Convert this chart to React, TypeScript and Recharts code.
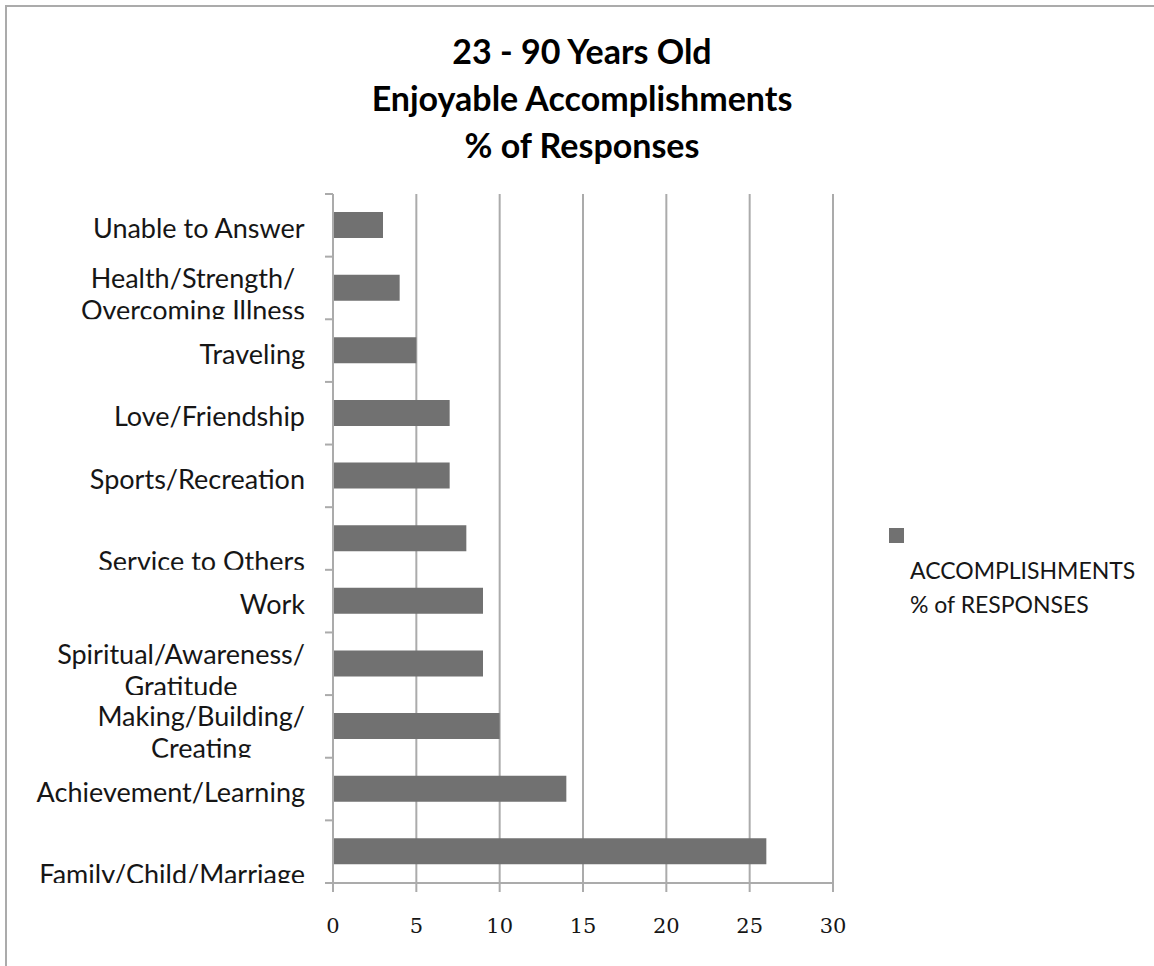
import React from 'react';
import { BarChart, Bar, XAxis, YAxis, CartesianGrid, Legend } from 'recharts';

// ---- data ----
const categories = [
  'Unable to Answer',
  'Health/Strength/\nOvercoming Illness',
  'Traveling',
  'Love/Friendship',
  'Sports/Recreation',
  '\nService to Others',
  'Work',
  'Spiritual/Awareness/\nGratitude',
  'Making/Building/\nCreating',
  'Achievement/Learning',
  '\nFamily/Child/Marriage',
];
const responses = [3, 4, 5, 7, 7, 8, 9, 9, 10, 14, 26];
const xTicks = [0, 5, 10, 15, 20, 25, 30];
const titleLines = ['23 - 90 Years Old', 'Enjoyable Accomplishments', '% of Responses'];
const seriesName = ['ACCOMPLISHMENTS', '% of RESPONSES'];

const data = categories.map((label, i) => ({ label, value: responses[i] }));

// ---- layout ----
const W = 1154;
const H = 966;
const MARGIN = { top: 194, right: 321, bottom: 33, left: 13 };
const Y_AXIS_W = 320;
const X_AXIS_H = 50;
const PLOT_H = H - MARGIN.top - MARGIN.bottom - X_AXIS_H;
const BAND = PLOT_H / categories.length;
const AXIS_X = MARGIN.left + Y_AXIS_W;

const GRID = '#ababab';
const BAR = '#717171';
const INK = '#161616';
const SANS = 'Lato, "Open Sans", sans-serif';
const LABEL_SIZE = 27;
const LINE_H = 32;

let measureCtx: CanvasRenderingContext2D | null = null;
function textWidth(s: string): number {
  if (!measureCtx) measureCtx = document.createElement('canvas').getContext('2d');
  if (!measureCtx) return s.length * LABEL_SIZE * 0.5;
  measureCtx.font = `${LABEL_SIZE}px Lato`;
  return measureCtx.measureText(s).width;
}

// Category label: wrapped lines centred as a block, right-aligned to the axis,
// clipped to its own band; tick marks sit on the band boundaries.
function CategoryTick(props: any) {
  const { y, payload, index } = props;
  const lines = String(payload.value).split('\n');
  const right = AXIS_X - 28;
  const blockW = Math.max(...lines.map(textWidth));
  const cx = right - blockW / 2;
  const top = y - BAND / 2;
  const bottom = y + BAND / 2;
  const y0 = y + 13 - (lines.length - 1) * 13;
  const id = `cat-clip-${index}`;
  return (
    <g>
      <clipPath id={id}>
        <rect x={0} y={top} width={AXIS_X} height={BAND} />
      </clipPath>
      <g clipPath={`url(#${id})`}>
        <text textAnchor="middle" fontFamily={SANS} fontSize={LABEL_SIZE} fill={INK}>
          {lines.map((l, i) => (
            <tspan key={i} x={cx} y={y0 + i * LINE_H}>
              {l}
            </tspan>
          ))}
        </text>
      </g>
      <line x1={AXIS_X - 8} x2={AXIS_X} y1={top} y2={top} stroke={GRID} strokeWidth={2} />
      {index === categories.length - 1 && (
        <line x1={AXIS_X - 8} x2={AXIS_X} y1={bottom} y2={bottom} stroke={GRID} strokeWidth={2} />
      )}
    </g>
  );
}

function LegendBox() {
  return (
    <svg width={274} height={110} style={{ display: 'block' }}>
      <rect x={9} y={8} width={15} height={15} fill={BAR} />
      {seriesName.map((s, i) => (
        <text key={i} x={30} y={59 + i * 34} fontFamily={SANS} fontSize={23} fill={INK}>
          {s}
        </text>
      ))}
    </svg>
  );
}

export default function App() {
  return (
    <div style={{ position: 'absolute', left: 0, top: 0, width: W, height: H, background: '#fff', overflow: 'hidden' }}>
      <div
        style={{
          position: 'absolute',
          left: 5,
          top: 5,
          width: W,
          height: H,
          borderLeft: `2px solid ${GRID}`,
          borderTop: `2px solid ${GRID}`,
        }}
      />
      <svg width={W} height={175} style={{ position: 'absolute', left: 0, top: 0 }}>
        {titleLines.map((t, i) => (
          <text key={i} x={582} y={64 + i * 47} textAnchor="middle" fontFamily={SANS} fontWeight={700} fontSize={34} fill="#000">
            {t}
          </text>
        ))}
      </svg>
      <div style={{ position: 'absolute', left: 0, top: 0 }}>
        <BarChart width={W} height={H} data={data} layout="vertical" margin={MARGIN}>
          <CartesianGrid horizontal={false} stroke={GRID} strokeWidth={2} />
          <XAxis
            type="number"
            domain={[0, 30]}
            ticks={xTicks}
            interval={0}
            height={X_AXIS_H}
            tickSize={9}
            tickMargin={26}
            axisLine={{ stroke: GRID, strokeWidth: 2 }}
            tickLine={{ stroke: GRID, strokeWidth: 2 }}
            tick={{ fontFamily: '"DejaVu Serif", serif', fontSize: 21, fill: INK }}
          />
          <YAxis
            type="category"
            dataKey="label"
            width={Y_AXIS_W}
            interval={0}
            axisLine={{ stroke: GRID, strokeWidth: 2 }}
            tickLine={false}
            tick={<CategoryTick />}
          />
          <Legend
            layout="horizontal"
            align="center"
            verticalAlign="middle"
            wrapperStyle={{ left: 880, top: 520, width: 274, height: 110 }}
            content={<LegendBox />}
          />
          <Bar dataKey="value" name={seriesName.join(' ')} fill={BAR} barSize={26} isAnimationActive={false} />
        </BarChart>
      </div>
    </div>
  );
}
